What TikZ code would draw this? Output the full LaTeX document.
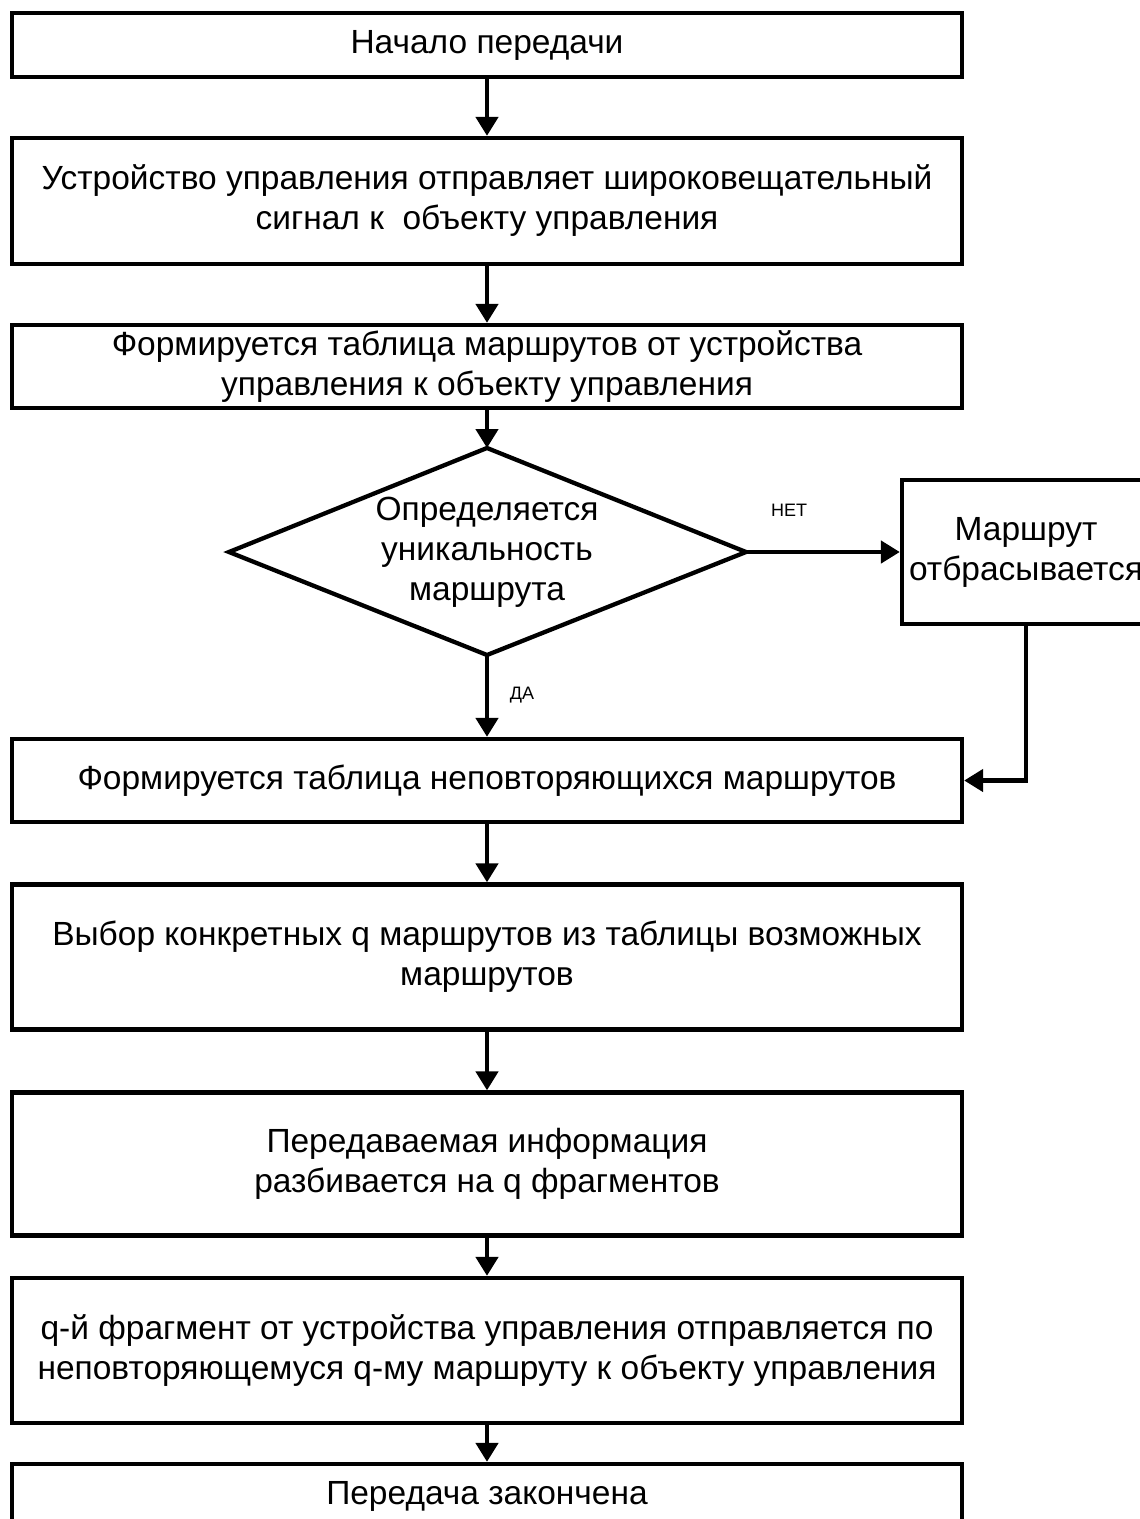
\documentclass[tikz,border=0pt]{standalone}
\usepackage{fontspec}
\setmainfont{Liberation Sans}
\usetikzlibrary{arrows.meta}
\begin{document}
\begin{tikzpicture}[x=1pt,y=-1pt,
 box/.style={draw, line width=4.3pt, rectangle, minimum width=950pt, inner sep=0pt, align=center, font=\fontsize{33.5}{40}\selectfont},
 arr/.style={line width=4.5pt, -{Triangle[width=22pt,length=19pt]}},
 lbl/.style={font=\fontsize{18}{22}\selectfont, inner sep=0pt}]
\useasboundingbox (0,0) rectangle (1140,1519);
\fill[white] (0,0) rectangle (1140,1519);

\node[box, minimum height=64pt]  (b1) at (487,45)    {Начало передачи};
\node[box, minimum height=126pt] (b2) at (487,201)   {Устройство управления отправляет широковещательный\\сигнал к\ \ объекту управления};
\node[box, minimum height=83pt]  (b3) at (487,366.5) {Формируется таблица маршрутов от устройства\\управления к объекту управления};

\coordinate (dT) at (487,448);
\coordinate (dR) at (746,552);
\coordinate (dB) at (487,655);
\coordinate (dL) at (229,552);
\draw[line width=4.3pt, line join=miter] (dT) -- (dR) -- (dB) -- (dL) -- cycle;
\node[align=center, inner sep=0pt, font=\fontsize{33.5}{40}\selectfont] (dtext) at (487,552) {Определяется\\уникальность\\маршрута};

\node[box, minimum width=248pt, minimum height=144pt] (rb) at (1026,552) {Маршрут\\отбрасывается};

\node[box, minimum height=83pt]  (b6) at (487,780.5)  {Формируется таблица неповторяющихся маршрутов};
\node[box, minimum height=145pt] (b7) at (487,957)    {Выбор конкретных q маршрутов из таблицы возможных\\маршрутов};
\node[box, minimum height=143pt] (b8) at (487,1164)   {Передаваемая информация\\разбивается на q фрагментов};
\node[box, minimum height=145pt] (b9) at (487,1350.5) {q-й фрагмент от устройства управления отправляется по\\неповторяющемуся q-му маршруту к объекту управления};
\node[box, minimum height=64pt]  (b10) at (487,1496)  {Передача закончена};

\draw[arr] (b1.south) -- (b2.north);
\draw[arr] (b2.south) -- (b3.north);
\draw[arr] (b3.south) -- (dT);
\draw[arr] (dR) -- (rb.west);
\draw[arr] (dB) -- (b6.north);
\coordinate (rturn) at (rb.south |- b6.east);
\draw[arr] (rb.south) -- (rturn) -- (b6.east);
\draw[arr] (b6.south) -- (b7.north);
\draw[arr] (b7.south) -- (b8.north);
\draw[arr] (b8.south) -- (b9.north);
\draw[arr] (b9.south) -- (b10.north);

\node[lbl] (net) at (789,510) {НЕТ};
\node[lbl] (da) at (522,695) {ДА};
\end{tikzpicture}
\end{document}
